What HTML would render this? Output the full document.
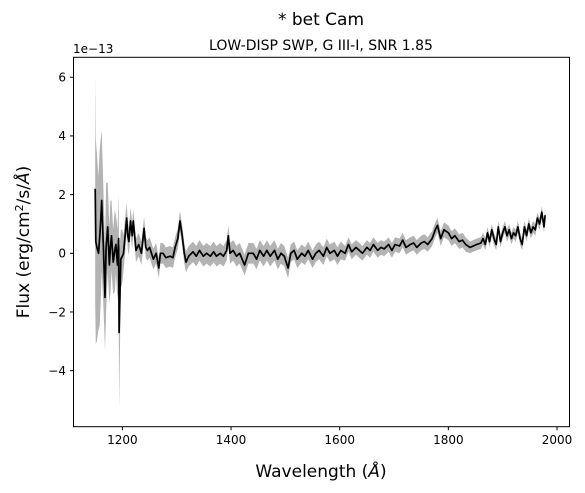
<!DOCTYPE html>
<html><head><meta charset="utf-8"><style>
body{margin:0;background:#fff}
svg{display:block;font-family:"DejaVu Sans","Liberation Sans",sans-serif}
</style></head><body>
<svg width="585" height="493" viewBox="0 0 585 493">
<text x="321" y="25" text-anchor="middle" font-size="17">* bet Cam</text>
<text x="321" y="50" text-anchor="middle" font-size="14">LOW-DISP SWP, G III-I, SNR 1.85</text>
<text x="73" y="53" font-size="12">1e−13</text>
<g id="plot"></g>
<rect x="73.5" y="57.3" width="496" height="369.4" fill="none" stroke="#000" stroke-width="1"/>
<g id="xt"></g><g id="yt"></g>
<text x="321" y="477" text-anchor="middle" font-size="17">Wavelength (<tspan font-style="italic">Å</tspan>)</text>
<text transform="translate(29,242) rotate(-90)" text-anchor="middle" font-size="17">Flux (erg/cm<tspan baseline-shift="super" font-size="11">2</tspan>/s/<tspan font-style="italic">Å</tspan>)</text>
</svg>
<script>
const wl=[1150,1151,1153,1156,1158,1160,1162,1165,1168,1170,1173,1176,1178,1180,1183,1186,1188,1191,1193,1194,1197,1200,1202,1205,1208,1210,1212,1215,1218,1220,1225,1230,1235,1240,1243,1246,1250,1257,1262,1267,1270,1275,1280,1288,1293,1297,1302,1306,1310,1314,1317,1322,1330,1336,1342,1349,1355,1362,1368,1373,1380,1386,1392,1395,1398,1404,1410,1416,1425,1432,1441,1447,1453,1460,1466,1472,1480,1486,1492,1498,1505,1510,1516,1522,1530,1536,1542,1550,1556,1562,1570,1576,1582,1590,1596,1602,1610,1616,1622,1630,1636,1642,1650,1656,1662,1670,1676,1682,1690,1696,1702,1710,1716,1722,1730,1736,1742,1750,1756,1762,1770,1776,1780,1786,1792,1800,1806,1812,1820,1826,1832,1840,1846,1852,1860,1864,1868,1872,1876,1880,1884,1888,1892,1896,1900,1904,1908,1912,1916,1920,1924,1928,1932,1936,1940,1944,1948,1952,1956,1960,1964,1968,1972,1976,1978];
const flux=[2.2,0.4,0.2,0.0,0.5,1.1,1.8,0.2,-1.5,0.2,0.9,-0.4,0.2,0.6,-0.3,0.1,0.3,-0.4,0.5,-2.7,-0.2,-0.1,0.0,0.6,1.2,0.6,0.4,1.1,0.6,1.1,0.1,0.3,0.0,0.85,0.2,0.1,0.2,-0.2,0.0,-0.5,0.0,0.0,-0.15,-0.1,-0.15,0.2,0.5,1.1,0.6,0.0,-0.3,-0.1,0.05,-0.1,0.1,-0.1,0.0,-0.1,0.05,-0.1,0.0,-0.1,0.1,0.6,0.0,0.1,-0.1,0.0,-0.4,0.0,0.0,-0.2,0.1,-0.1,0.1,-0.1,0.1,-0.2,0.0,-0.1,-0.5,0.0,0.1,-0.2,0.0,-0.1,0.1,-0.2,0.0,0.1,-0.1,0.2,0.0,0.1,-0.1,0.1,0.0,0.3,0.05,0.2,0.1,0.0,0.2,0.1,0.3,0.1,0.2,0.15,0.3,0.1,0.3,0.25,0.45,0.2,0.3,0.35,0.2,0.35,0.4,0.3,0.5,0.8,0.95,0.5,0.8,0.7,0.5,0.6,0.4,0.45,0.3,0.2,0.25,0.3,0.35,0.5,0.3,0.7,0.4,0.8,0.5,0.3,0.9,0.4,0.7,0.9,0.6,0.8,0.5,0.7,0.6,0.9,0.5,0.3,0.9,0.6,1.0,0.7,0.9,0.8,1.2,1.0,1.4,0.9,1.3,1.2,1.3];
const err=[3.9,3.5,3.2,2.6,3.0,2.8,2.4,2.0,1.8,2.2,1.5,1.3,1.6,1.2,1.1,1.4,1.0,1.2,1.5,2.6,1.0,0.9,0.6,0.6,0.5,0.5,0.45,0.45,0.45,0.4,0.4,0.4,0.4,0.4,0.35,0.35,0.35,0.35,0.35,0.35,0.35,0.35,0.35,0.35,0.35,0.35,0.35,0.35,0.35,0.35,0.35,0.35,0.35,0.35,0.35,0.35,0.35,0.35,0.35,0.35,0.35,0.35,0.35,0.35,0.35,0.35,0.35,0.35,0.35,0.35,0.35,0.35,0.35,0.35,0.35,0.35,0.35,0.35,0.35,0.35,0.35,0.3,0.3,0.3,0.3,0.3,0.3,0.3,0.3,0.3,0.3,0.3,0.3,0.3,0.3,0.3,0.25,0.25,0.25,0.25,0.25,0.25,0.25,0.25,0.25,0.25,0.25,0.25,0.25,0.25,0.25,0.25,0.25,0.25,0.25,0.25,0.25,0.25,0.25,0.25,0.25,0.25,0.25,0.25,0.25,0.25,0.25,0.25,0.25,0.25,0.25,0.2,0.2,0.2,0.2,0.2,0.2,0.2,0.2,0.2,0.2,0.2,0.2,0.2,0.2,0.2,0.2,0.2,0.2,0.2,0.2,0.2,0.2,0.2,0.2,0.2,0.2,0.2,0.2,0.2,0.2,0.2,0.2,0.2,0.2,0.2,0.2,0.2,0.2];
const xTicks=[1200,1400,1600,1800,2000];
const yTicks=[-4,-2,0,2,4,6];
const x0=73.5,x1=569.5,y0=426.7,y1=57.3,xmin=1110,xmax=2023,ymin=-5.91,ymax=6.68;
const X=v=>x0+(v-xmin)/(xmax-xmin)*(x1-x0);
const Y=v=>y0-(v-ymin)/(ymax-ymin)*(y0-y1);
const ns="http://www.w3.org/2000/svg";
const plot=document.getElementById('plot');
const n=Math.min(wl.length,flux.length,err.length);
const idx=[...Array(n).keys()];
let up=idx.map(i=>X(wl[i]).toFixed(1)+','+Y(flux[i]+err[i]).toFixed(1));
let dn=idx.map(i=>X(wl[i]).toFixed(1)+','+Y(flux[i]-err[i]).toFixed(1)).reverse();
const band=document.createElementNS(ns,'polygon');
band.setAttribute('points',up.concat(dn).join(' '));
band.setAttribute('fill','#b3b3b3');


plot.appendChild(band);
const line=document.createElementNS(ns,'polyline');
line.setAttribute('points',idx.map(i=>X(wl[i]).toFixed(1)+','+Y(flux[i]).toFixed(1)).join(' '));
line.setAttribute('fill','none');line.setAttribute('stroke','#000');line.setAttribute('stroke-width','1.7');line.setAttribute('stroke-linejoin','round');


plot.appendChild(line);
const xt=document.getElementById('xt');
xTicks.forEach(t=>{const g=document.createElementNS(ns,'g');


g.innerHTML=`<line x1="${X(t)}" x2="${X(t)}" y1="426.7" y2="430.2" stroke="#000"/><text x="${X(t)}" y="444" text-anchor="middle" font-size="12">${t}</text>`;xt.appendChild(g);});
const yt=document.getElementById('yt');
yTicks.forEach(t=>{const g=document.createElementNS(ns,'g');


g.innerHTML=`<line x1="70" x2="73.5" y1="${Y(t)}" y2="${Y(t)}" stroke="#000"/><text x="66" y="${Y(t)+4.3}" text-anchor="end" font-size="12">${t<0?'−'+(-t):t}</text>`;yt.appendChild(g);});
</script>
</body></html>
